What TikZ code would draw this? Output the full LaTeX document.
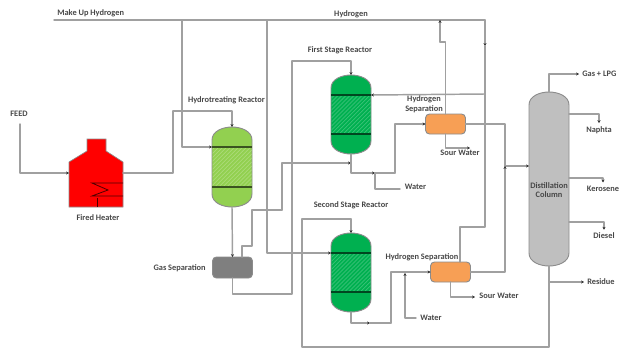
\documentclass[tikz,border=0pt]{standalone}
\usepackage{fontspec}
\setmainfont{Carlito}
\usetikzlibrary{arrows.meta,patterns}

\def\px{0.0265cm}
\definecolor{hydrogreen}{HTML}{92D050}
\definecolor{reactgreen}{HTML}{00B050}
\definecolor{sepOrange}{HTML}{F79F55}
\definecolor{columngray}{HTML}{BFBFBF}
\definecolor{gasgray}{HTML}{7F7F7F}
\definecolor{pipegray}{HTML}{A0A0A0}

\tikzset{
  pipe/.style={pipegray, line width=1.1pt, line cap=round, line join=round},
  tip/.style={pipe, -{Stealth[black!80,length=2.2pt,width=2.4pt]}},
  lbl/.style={font=\fontsize{6.3}{7.4}\selectfont\bfseries, text=black!72, inner sep=1pt, outer sep=1.5pt, align=center},
  box/.style={inner sep=0pt, outer sep=0pt, minimum width=40*\px},
  shell/.style={draw=black!45, line width=0.7pt},
  sep/.style={box, shell, rounded corners=3pt, minimum height=20*\px}
}

% vessel with domed ends: name, centre x, top y, bottom y, colour
\newcommand{\vessel}[5]{
  \node[box, minimum height={(#4-#3)*\px}] (#1) at (#2, {(#3+#4)/2}) {};
  \draw[shell, fill=#5] ({#2-20}, {#3+13}) .. controls ({#2-20}, {#3+4}) and ({#2-9}, #3) .. (#2, #3)
    .. controls ({#2+9}, #3) and ({#2+20}, {#3+4}) .. ({#2+20}, {#3+13})
    -- ({#2+20}, {#4-13}) .. controls ({#2+20}, {#4-4}) and ({#2+9}, #4) .. (#2, #4)
    .. controls ({#2-9}, #4) and ({#2-20}, {#4-4}) .. ({#2-20}, {#4-13}) -- cycle;
}

\begin{document}
\begin{tikzpicture}[x=\px, y=-\px]

\useasboundingbox (0, 0) rectangle (621, 350);

% HEATER
  \node[box, minimum width=54*\px, minimum height=68*\px] (heater) at (96, 173) {};
  \draw[fill=red, draw=black!45, line width=0.5pt] (69, 207) -- (69, 162) -- (87, 151) -- (87, 139) -- (106, 139)
    -- (106, 151) -- (123, 162) -- (123, 207) -- cycle;
  \draw[black!70!red, line width=0.6pt] (123, 183) -- (92, 183) -- (108, 190) -- (92, 196) -- (123, 196);
  \draw[black!70!red, line width=0.6pt] (97, 198) -- (97, 207);

% VESSELS
  \foreach \name/\cx/\ytop/\ybot/\col in {hydro/232/127/207/hydrogreen, first/351/75/154/reactgreen, second/351/233/312/reactgreen} {
    \vessel{\name}{\cx}{\ytop}{\ybot}{\col}
    \fill[pattern=north east lines, pattern color=white!28!\col] ({\cx-19.5}, {\ytop+20}) rectangle ({\cx+19.5}, {\ybot-20});
    \draw[black!60!\col, line width=0.8pt] ({\cx-20}, {\ytop+20}) -- ({\cx+20}, {\ytop+20});
    \draw[black!60!\col, line width=0.8pt] ({\cx-20}, {\ybot-20}) -- ({\cx+20}, {\ybot-20});
    \coordinate (\name W) at ({\cx-20}, {\ytop+20});
    \coordinate (\name E) at ({\cx+20}, {\ytop+20});
  }
  \vessel{column}{549}{92}{266}{columngray}

% SEPARATORS
  \node[sep, fill=gasgray, minimum height=21*\px] (gassep) at (232.5, 267.5) {};
  \node[sep, fill=sepOrange] (sepA) at (445.5, 124) {};
  \node[sep, fill=sepOrange] (sepB) at (450.5, 272) {};

% LABELS
  \node[lbl, anchor=west] (makeup) at (54, 13.5) {Make Up Hydrogen};
  \node[lbl] (hydrogen) at (351, 14) {Hydrogen};
  \node[lbl] (feed) at (19, 114) {FEED};
  \node[lbl] (heatertxt) at (98, 218) {Fired Heater};
  \node[lbl] (hydrotxt) at (226.5, 100) {Hydrotreating Reactor};
  \node[lbl, anchor=east] (gastxt) at (209, 268) {Gas Separation};
  \node[lbl] (firsttxt) at (340, 50.5) {First Stage Reactor};
  \node[lbl] (secondtxt) at (351, 205.5) {Second Stage Reactor};
  \node[lbl] (sepAtxt) at (424, 104.5) {Hydrogen\\Separation};
  \node[lbl] (sepBtxt) at (422, 257) {Hydrogen Separation};
  \node[lbl] (sourA) at (460, 153) {Sour Water};
  \node[lbl] (sourB) at (499, 296) {Sour Water};
  \node[lbl] (waterA) at (415.5, 187) {Water};
  \node[lbl] (waterB) at (431, 318) {Water};
  \node[lbl] (columntxt) at (549, 190) {Distillation\\Column};
  \node[lbl, anchor=west] (lpg) at (579, 74) {Gas + LPG};
  \node[lbl] (naphta) at (599, 130) {Naphta};
  \node[lbl] (kerosene) at (603, 188.5) {Kerosene};
  \node[lbl] (diesel) at (604, 236) {Diesel};
  \node[lbl, anchor=west] (residue) at (584, 282) {Residue};

% JUNCTIONS
  \coordinate (mkStart) at (54, 20);
  \coordinate (hyEnd) at (485, 20);
  \coordinate (feedIn) at (20, 124);
  \coordinate (h1) at (173, 111);
  \coordinate (t1) at (182, 20);
  \coordinate (t2) at (267, 20);
  \coordinate (gasTop) at (242, 257);
  \coordinate (g1) at (252, 246);
  \coordinate (g2) at (282, 210);
  \coordinate (j1) at (351, 163);
  \coordinate (g3) at (292, 294);
  \coordinate (g4) at (292, 61);
  \coordinate (wA) at (375, 173);
  \coordinate (f1) at (395, 173);
  \coordinate (h2) at (440, 42);
  \coordinate (h3) at (440, 20);
  \coordinate (rMark) at (485, 46);
  \coordinate (rJoin) at (485, 94);
  \coordinate (r3) at (485, 227);
  \coordinate (sepBtop) at (460, 262);
  \coordinate (c1) at (505, 166);
  \coordinate (colIn) at (529, 166);
  \coordinate (colOutA) at (569, 114);
  \coordinate (colOutB) at (569, 178);
  \coordinate (colOutC) at (569, 222);
  \coordinate (resJoin) at (549, 282);
  \coordinate (r1) at (302, 347);
  \coordinate (r2) at (351, 219);
  \coordinate (sMark) at (370, 323);
  \coordinate (s1) at (391, 323);
  \coordinate (wB) at (405, 273);
  \coordinate (sourAend) at (470, 148);
  \coordinate (sourBend) at (475, 297);
  \coordinate (waterAend) at (400, 189);
  \coordinate (waterBend) at (416, 318);

% HYDROGEN LINES
  \draw[pipe] (mkStart) -- (hyEnd);
  \draw[tip] (t1) |- (hydroW);
  \draw[tip] (t2) |- (secondW);
  \draw[tip] (hyEnd) -- (rMark);
  \draw[pipe] (rMark) -- (rJoin) -- (r3) -| (sepBtop);
  \draw[tip] (rJoin) -- (firstE);
  \draw[pipe] (sepA.north) |- (h2);
  \draw[tip] (h2) -- (h3);

% FEED LINES
  \draw[tip] (feedIn) |- (heater.west);
  \draw[pipe] (heater.east) -| (h1);
  \draw[tip] (h1) -| (hydro.north);
  \draw[tip] (hydro.south) -- (gassep.north);
  \draw[pipe] (gasTop) |- (g1) |- (g2);
  \draw[tip] (g2) |- (j1);
  \draw[pipe] (gassep.south) |- (g3) -- (g4);
  \draw[tip] (g4) -| (first.north);

% FIRST STAGE
  \draw[tip] (first.south) |- (wA);
  \draw[pipe] (wA) -- (f1);
  \draw[tip] (f1) |- (sepA.west);
  \draw[pipe] (wA) |- (waterAend);
  \draw[tip] (sepA.south) |- (sourAend);
  \draw[pipe] (sepA.east) -| (c1);
  \draw[tip] (c1) -- (colIn);

% SECOND STAGE
  \draw[tip] (second.south) |- (sMark);
  \draw[pipe] (sMark) -- (s1);
  \draw[tip] (s1) |- (sepB.west);
  \draw[tip] (waterBend) -| (wB);
  \draw[tip] (sepB.south) |- (sourBend);
  \draw[tip] (sepB.east) -| (c1);

% PRODUCTS
  \draw[tip] (column.north) |- (lpg.west);
  \draw[tip] (colOutA) -| (naphta.north);
  \draw[tip] (colOutB) -| (kerosene.north);
  \draw[tip] (colOutC) -| (diesel.north);
  \draw[tip] (resJoin) -- (residue.west);
  \draw[pipe] (column.south) |- (r1) |- (r2);
  \draw[tip] (r2) -- (second.north);

\end{tikzpicture}
\end{document}
